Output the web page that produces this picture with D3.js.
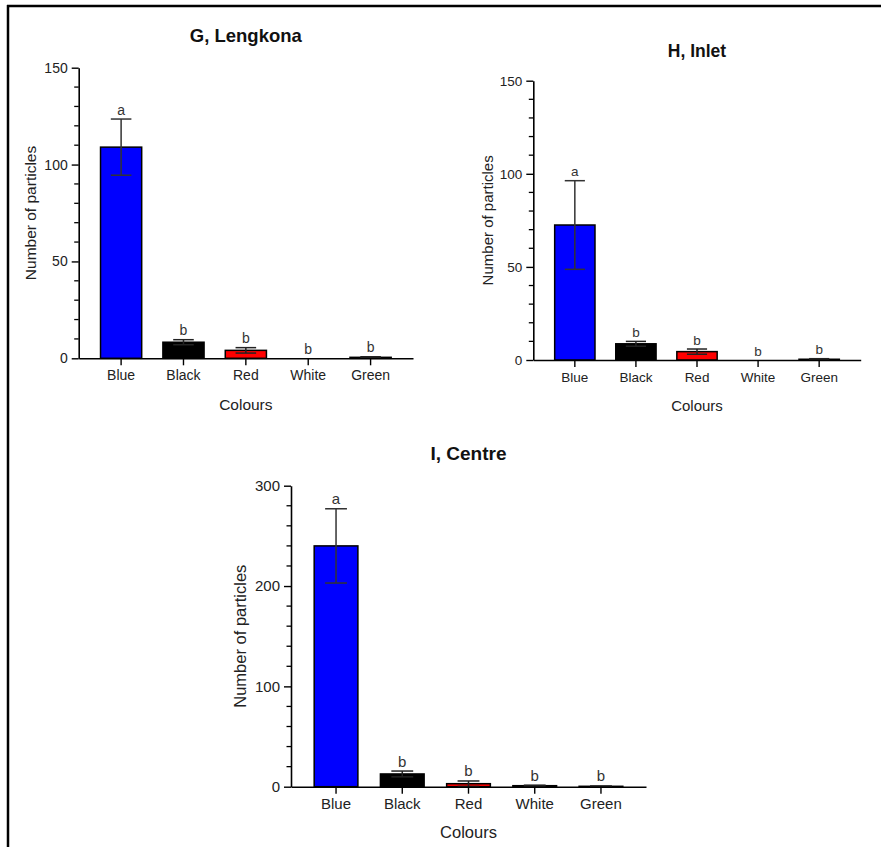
<!DOCTYPE html>
<html>
<head>
<meta charset="utf-8">
<script src="https://cdn.jsdelivr.net/npm/d3@7"></script>
<style>
  body { margin: 0; background: #fff; }
  svg { display: block; font-family: "Liberation Sans", Arial, sans-serif; }
</style>
</head>
<body>
<svg id="chart" width="881" height="847"></svg>
<script>
// data -----------------------------------------------------------------------
const colours = ['Blue', 'Black', 'Red', 'White', 'Green'];
const barFills = ['#0000ff', '#000000', '#ff0000', '#ffffff', '#ffffff'];
const letters = ['a', 'b', 'b', 'b', 'b'];

const lengkonaMean = [109, 8.3, 4.1, 0, 0.5];
const lengkonaSD = [14.5, 1.3, 1.4, 0, 0.3];
const inletMean = [72.5, 8.7, 4.5, 0, 0.4];
const inletSD = [23.8, 1.3, 1.4, 0, 0.3];
const centreMean = [240, 12.7, 3, 1, 0.4];
const centreSD = [37, 2.9, 2.7, 0.5, 0.3];

const ticks150 = [0, 50, 100, 150];
const ticks300 = [0, 100, 200, 300];

// panel layout ---------------------------------------------------------------
const panels = [
  {title: 'G, Lengkona', mean: lengkonaMean, sd: lengkonaSD, max: 150, ticks: ticks150, minor: 10,
   x0: 78.7, x1: 413, yTop: 67.7, yZero: 358.3, titleY: 36, ylabX: 30.7, font: 14, labFont: 15.5, titleFont: 18.5},
  {title: 'H, Inlet', mean: inletMean, sd: inletSD, max: 150, ticks: ticks150, minor: 10,
   x0: 533.3, x1: 860.7, yTop: 80.7, yZero: 360, titleY: 50.7, ylabX: 487.3, font: 13.5, labFont: 15, titleFont: 17.5},
  {title: 'I, Centre', mean: centreMean, sd: centreSD, max: 300, ticks: ticks300, minor: 20,
   x0: 291, x1: 646, yTop: 485.7, yZero: 786.7, titleY: 453.3, ylabX: 240, font: 15, labFont: 16.5, titleFont: 19}
];

const svg = d3.select('#chart');

// outer frame (left and top edges only) ---------------------------------------
svg.append('line').attr('x1', 8).attr('x2', 8).attr('y1', 5).attr('y2', 847)
  .attr('stroke', '#000').attr('stroke-width', 2.5);
svg.append('line').attr('x1', 7).attr('x2', 881).attr('y1', 6).attr('y2', 6)
  .attr('stroke', '#000').attr('stroke-width', 2.5);

panels.forEach(p => {
  const g = svg.append('g');
  const x = d3.scaleBand()
    .domain(colours)
    .range([p.x0, p.x1])
    .paddingInner(0.34)
    .paddingOuter(0.35);
  const y = d3.scaleLinear()
    .domain([0, p.max])
    .range([p.yZero, p.yTop]);

  const rows = colours.map((c, i) => ({name: c, mean: p.mean[i], sd: p.sd[i], fill: barFills[i], letter: letters[i]}));

  // bars
  g.selectAll('.bar')
    .data(rows)
    .enter()
    .append('rect')
    .attr('class', 'bar')
    .attr('x', d => x(d.name))
    .attr('width', x.bandwidth())
    .attr('y', d => y(d.mean))
    .attr('height', d => y(0) - y(d.mean))
    .attr('fill', d => d.fill)
    .attr('stroke', '#000')
    .attr('stroke-width', d => d.mean > 0 ? 1.5 : 0);

  // error bars
  const capW = x.bandwidth() / 2;
  const err = g.selectAll('.err')
    .data(rows.filter(d => d.sd > 0))
    .enter()
    .append('g')
    .attr('class', 'err')
    .attr('stroke', d => d.mean > 20 ? '#333' : '#222')
    .attr('stroke-width', 1.5);
  err.append('line')
    .attr('x1', d => x(d.name) + x.bandwidth() / 2)
    .attr('x2', d => x(d.name) + x.bandwidth() / 2)
    .attr('y1', d => y(Math.max(0, d.mean - d.sd)))
    .attr('y2', d => y(d.mean + d.sd));
  err.append('line')
    .attr('x1', d => x(d.name) + x.bandwidth() / 2 - capW / 2)
    .attr('x2', d => x(d.name) + x.bandwidth() / 2 + capW / 2)
    .attr('y1', d => y(d.mean + d.sd))
    .attr('y2', d => y(d.mean + d.sd));
  err.filter(d => d.mean - d.sd > 0).append('line')
    .attr('x1', d => x(d.name) + x.bandwidth() / 2 - capW / 2)
    .attr('x2', d => x(d.name) + x.bandwidth() / 2 + capW / 2)
    .attr('y1', d => y(d.mean - d.sd))
    .attr('y2', d => y(d.mean - d.sd));

  // significance letters
  g.selectAll('.letter')
    .data(rows)
    .enter()
    .append('text')
    .attr('class', 'letter')
    .attr('x', d => x(d.name) + x.bandwidth() / 2)
    .attr('y', d => y(d.mean + d.sd) - 4.5)
    .attr('text-anchor', 'middle')
    .attr('font-size', p.font + 'px')
    .attr('fill', '#333')
    .text(d => d.letter);

  // minor y ticks
  const minorVals = d3.range(0, p.max + 0.001, p.minor).filter(v => !p.ticks.includes(v));
  g.selectAll('.minor')
    .data(minorVals)
    .enter()
    .append('line')
    .attr('x1', p.x0 - 4.5)
    .attr('x2', p.x0)
    .attr('y1', d => y(d))
    .attr('y2', d => y(d))
    .attr('stroke', '#000')
    .attr('stroke-width', 1.3);

  // y axis
  const yAxis = g.append('g')
    .attr('transform', 'translate(' + p.x0 + ',0)')
    .call(d3.axisLeft(y).tickValues(p.ticks).tickSize(7).tickPadding(4).tickSizeOuter(0));
  yAxis.select('.domain').attr('stroke-width', 1.6);
  yAxis.selectAll('.tick line').attr('stroke-width', 1.4);
  yAxis.selectAll('text').attr('font-size', p.font + 'px').attr('fill', '#222')
    .attr('font-family', '"Liberation Sans", Arial, sans-serif');

  // x axis
  const xAxis = g.append('g')
    .attr('transform', 'translate(0,' + p.yZero + ')')
    .call(d3.axisBottom(x).tickSize(7).tickPadding(5).tickSizeOuter(0));
  xAxis.select('.domain').attr('stroke-width', 1.6);
  xAxis.selectAll('.tick line').attr('stroke-width', 1.4);
  xAxis.selectAll('text').attr('font-size', p.font + 'px').attr('fill', '#222')
    .attr('font-family', '"Liberation Sans", Arial, sans-serif');

  // titles
  const cx = (p.x0 + p.x1) / 2;
  g.append('text')
    .attr('x', cx)
    .attr('y', p.titleY)
    .attr('dy', '0.35em')
    .attr('text-anchor', 'middle')
    .attr('font-size', p.titleFont + 'px')
    .attr('font-weight', 'bold')
    .attr('fill', '#111')
    .text(p.title);
  g.append('text')
    .attr('x', cx)
    .attr('y', p.yZero + 46)
    .attr('dy', '0.35em')
    .attr('text-anchor', 'middle')
    .attr('font-size', p.labFont + 'px')
    .attr('fill', '#222')
    .text('Colours');
  g.append('text')
    .attr('transform', 'translate(' + p.ylabX + ',' + (p.yZero + p.yTop) / 2 + ') rotate(-90)')
    .attr('dy', '0.35em')
    .attr('text-anchor', 'middle')
    .attr('font-size', p.labFont + 'px')
    .attr('fill', '#222')
    .text('Number of particles');
});
</script>
</body>
</html>
